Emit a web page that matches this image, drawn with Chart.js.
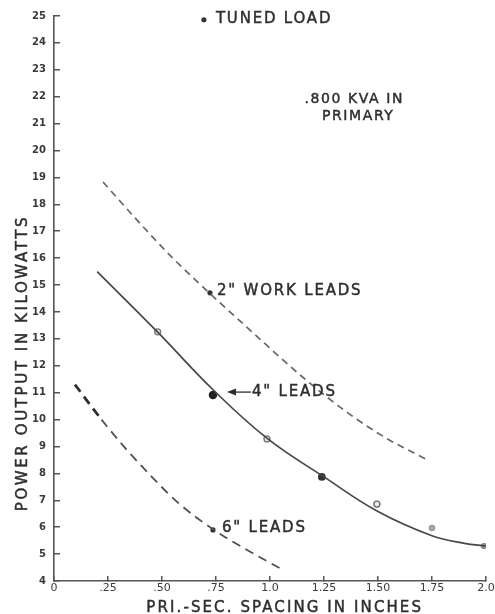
<!DOCTYPE html>
<html>
<head>
<meta charset="utf-8">
<script src="https://cdn.jsdelivr.net/npm/chart.js@4.4.1/dist/chart.umd.min.js"></script>
<style>
  html, body { margin: 0; padding: 0; background: #fff; overflow: hidden; }
  canvas { display: block; }
</style>
</head>
<body>
<canvas id="chart" width="495" height="614"></canvas>
<script>
// Axis ticks
const xTickValues = [0, 0.25, 0.5, 0.75, 1.0, 1.25, 1.5, 1.75, 2.0];
const xTickLabels = ['0', '.25', '.50', '.75', '1.0', '1.25', '1.50', '1.75', '2.0'];
const yTickValues = [4, 5, 6, 7, 8, 9, 10, 11, 12, 13, 14, 15, 16, 17, 18, 19, 20, 21, 22, 23, 24, 25];
const yTickLabels = ['4', '5', '6', '7', '8', '9', '10', '11', '12', '13', '14', '15', '16', '17', '18', '19', '20', '21', '22', '23', '24', '25'];

// 2" work leads (kW vs spacing, in)
const work2X = [0.227, 0.42, 0.55, 0.72, 0.87, 1.17, 1.36, 1.54, 1.72];
const work2Y = [18.83, 17.1, 16.0, 14.7, 13.6, 11.45, 10.25, 9.3, 8.54];

// 4" leads, faired curve
const leads4X = [0.2, 0.48, 0.74, 0.99, 1.25, 1.5, 1.75, 1.9, 2.0];
const leads4Y = [15.5, 13.25, 11.08, 9.28, 7.87, 6.58, 5.68, 5.4, 5.3];

// 4" leads, measured points
const meas4X = [0.48, 0.736, 0.986, 1.24, 1.495, 1.75, 1.99];
const meas4Y = [13.26, 10.91, 9.28, 7.87, 6.86, 5.97, 5.30];

// 6" leads
const leads6X = [0.097, 0.22, 0.33, 0.44, 0.57, 0.74, 0.91, 1.06];
const leads6Y = [11.3, 10.0, 8.94, 7.98, 6.94, 5.9, 5.08, 4.41];

// Labelled points
const calloutNames = ['TUNED LOAD', '2" WORK LEADS', '6" LEADS'];
const calloutX = [0.694, 0.722, 0.736];
const calloutY = [24.86, 14.71, 5.9];
const leads4Name = '4" LEADS';
const noteLines = ['.800 KVA IN', 'PRIMARY'];
const xTitle = 'PRI.-SEC. SPACING IN INCHES';
const yTitle = 'POWER OUTPUT IN KILOWATTS';

const pts = (xs, ys) => xs.map((x, i) => ({ x, y: ys[i] }));
const INK = '#2e2e2e';
const FONT = "'DejaVu Sans', 'Liberation Sans', sans-serif";

// filled text with a hairline outline, for the heavier hand lettering
function letter(ctx, text, px, py) {
  ctx.fillText(text, px, py);
  ctx.strokeText(text, px, py);
}

const lettering = {
  id: 'lettering',
  afterDatasetsDraw(chart) {
    const { ctx, chartArea, scales: { x, y } } = chart;
    ctx.save();
    ctx.fillStyle = INK;
    ctx.strokeStyle = INK;
    ctx.textBaseline = 'middle';
    ctx.textAlign = 'left';
    ctx.lineWidth = 0.45;

    // callout labels beside their points
    ctx.font = '15px ' + FONT;
    ctx.letterSpacing = '1.8px';
    const offs = [[12, -1], [7, -2], [9, -2]];
    calloutNames.forEach((name, i) => {
      const px = x.getPixelForValue(calloutX[i]);
      const py = y.getPixelForValue(calloutY[i]);
      letter(ctx, name, px + offs[i][0], py + offs[i][1]);
    });

    // 4" leads: arrow pointing back to its point
    const ax = x.getPixelForValue(meas4X[1]);
    const ay = y.getPixelForValue(meas4Y[1]) - 3;
    letter(ctx, leads4Name, ax + 39, ay);
    ctx.lineWidth = 1.3;
    ctx.beginPath();
    ctx.moveTo(ax + 20, ay);
    ctx.lineTo(ax + 38, ay);
    ctx.stroke();
    ctx.beginPath();
    ctx.moveTo(ax + 14, ay);
    ctx.lineTo(ax + 23, ay - 3.5);
    ctx.lineTo(ax + 23, ay + 3.5);
    ctx.closePath();
    ctx.fill();
    ctx.lineWidth = 0.45;

    // primary note
    ctx.font = '14px ' + FONT;
    ctx.letterSpacing = '1.6px';
    ctx.textAlign = 'center';
    const nx = x.getPixelForValue(1.39);
    letter(ctx, noteLines[0], nx, y.getPixelForValue(21.92));
    letter(ctx, noteLines[1], nx + 4, y.getPixelForValue(21.28));

    // axis titles
    ctx.font = '15px ' + FONT;
    ctx.letterSpacing = '2.1px';
    letter(ctx, xTitle, x.getPixelForValue(1.068), chartArea.bottom + 27);
    ctx.save();
    ctx.translate(chartArea.left - 31, y.getPixelForValue(12.1));
    ctx.rotate(-Math.PI / 2);
    ctx.letterSpacing = '2.6px';
    letter(ctx, yTitle, 0, 0);
    ctx.restore();

    ctx.restore();
  }
};

new Chart(document.getElementById('chart'), {
  type: 'scatter',
  data: {
    datasets: [
      {
        label: '2" work leads',
        data: pts(work2X, work2Y),
        showLine: true,
        cubicInterpolationMode: 'monotone',
        borderColor: '#666',
        borderWidth: 1.7,
        borderDash: [7, 5],
        pointRadius: 0
      },
      {
        label: '4" leads',
        data: pts(leads4X, leads4Y),
        showLine: true,
        tension: 0.4,
        borderColor: '#474747',
        borderWidth: 1.7,
        pointRadius: 0
      },
      {
        label: '4" leads measured',
        data: pts(meas4X, meas4Y),
        showLine: false,
        pointRadius: [3, 3.6, 3, 3.2, 3, 2.6, 2.4],
        pointBorderWidth: 1.3,
        pointBorderColor: ['#777', '#222', '#777', '#333', '#666', '#999', '#888'],
        pointBackgroundColor: ['#ddd', '#222', '#e6e6e6', '#333', '#eee', '#aaa', '#999']
      },
      {
        label: '6" leads',
        data: pts(leads6X, leads6Y),
        showLine: true,
        cubicInterpolationMode: 'monotone',
        borderColor: '#505050',
        borderWidth: 1.8,
        borderDash: [9, 6],
        segment: {
          borderWidth: c => c.p0DataIndex < 1 ? 2.8 : undefined,
          borderColor: c => c.p0DataIndex < 1 ? '#2e2e2e' : undefined
        },
        pointRadius: 0
      },
      {
        label: 'callouts',
        data: pts(calloutX, calloutY),
        showLine: false,
        pointRadius: 2.6,
        pointBorderWidth: 0,
        pointBackgroundColor: '#333'
      }
    ]
  },
  options: {
    responsive: false,
    animation: false,
    devicePixelRatio: 1,
    layout: { padding: { top: 16, right: 9, bottom: 0, left: 0 } },
    plugins: { legend: { display: false }, tooltip: { enabled: false } },
    scales: {
      x: {
        type: 'linear',
        min: 0,
        max: 2.0,
        afterBuildTicks: s => { s.ticks = xTickValues.map(v => ({ value: v })); },
        afterFit: s => { s.height = 33; s.paddingLeft = 0; s.paddingRight = 0; },
        ticks: {
          callback: v => xTickLabels[xTickValues.indexOf(v)],
          color: '#3a3a3a',
          font: { family: FONT, size: 11 },
          padding: 6,
          maxRotation: 0,
          autoSkip: false
        },
        grid: { drawOnChartArea: false, tickLength: -5, color: '#555', lineWidth: 1.5 },
        border: { color: '#555', width: 1.6 }
      },
      y: {
        type: 'linear',
        min: 4,
        max: 25,
        afterBuildTicks: s => { s.ticks = yTickValues.map(v => ({ value: v })); },
        afterFit: s => { s.width = 54; s.paddingTop = 0; s.paddingBottom = 0; },
        ticks: {
          callback: v => yTickLabels[yTickValues.indexOf(v)],
          color: '#3a3a3a',
          font: { family: FONT, size: 10, weight: 'bold' },
          padding: 14,
          autoSkip: false
        },
        grid: { drawOnChartArea: false, tickLength: -6, color: '#555', lineWidth: 1.5 },
        border: { color: '#555', width: 1.6 }
      }
    }
  },
  plugins: [lettering]
});
</script>
</body>
</html>
